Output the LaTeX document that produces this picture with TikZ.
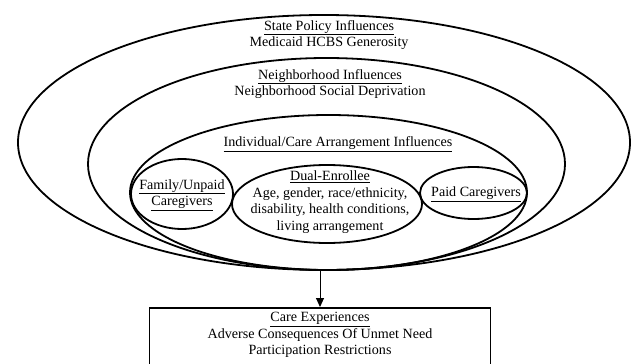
\documentclass[tikz,border=0pt]{standalone}
\usepackage{fontspec}
\setmainfont{Liberation Serif}
\usepackage{tikz}
\usetikzlibrary{shapes.geometric,arrows.meta}

\begin{document}
\begin{tikzpicture}[
    x=1pt,
    y=-1pt,
    >={Triangle[length=9pt,width=8pt]},
    line width=1.8pt
]

\tikzstyle{ring}=[
    ellipse,
    draw,
    inner sep=0pt,
    outer sep=0pt
]

\tikzstyle{txt}=[
    align=center,
    inner sep=0pt,
    font=\fontsize{14.1}{16.5}\selectfont
]

\useasboundingbox (0,0) rectangle (632,364);

% nested levels, all meeting at the bottom
\node[ring, minimum width=612, minimum height=255] (state) at (324,142.5) {};
\node[ring, minimum width=477, minimum height=212] (hood) at (326.5,164) {};
\node[ring, minimum width=397, minimum height=155] (indiv) at (328.5,192.5) {};

% care arrangement
\node[ring, minimum width=102, minimum height=70] (family) at (182,194) {};
\node[ring, minimum width=190, minimum height=78] (dual) at (327,204) {};
\node[ring, minimum width=107, minimum height=52] (paid) at (473.5,193) {};

\node[txt] (statetxt) at (329,35) {\underline{State Policy Influences}\\Medicaid HCBS Generosity};
\node[txt] (hoodtxt) at (330,84) {\underline{Neighborhood Influences}\\Neighborhood Social Deprivation};
\node[txt] (indivtxt) at (338,144) {\underline{Individual/Care Arrangement Influences}};
\node[txt] (familytxt) at (182,195) {\underline{Family/Unpaid}\\\underline{Caregivers}};
\node[txt] (dualtxt) at (330,202) {\underline{Dual-Enrollee}\\Age, gender, race/ethnicity,\\disability, health conditions,\\living arrangement};
\node[txt] (paidtxt) at (476,194) {\underline{Paid Caregivers}};

% outcome
\node[draw, rectangle, minimum width=341, minimum height=70, anchor=north] (care) at (320,307) {};
\node[txt] (caretxt) at (320,335) {\underline{Care Experiences}\\Adverse Consequences Of Unmet Need\\Participation Restrictions};

\draw[->, line width=1pt] (state.south -| care.north) -- (care.north);

\end{tikzpicture}
\end{document}
